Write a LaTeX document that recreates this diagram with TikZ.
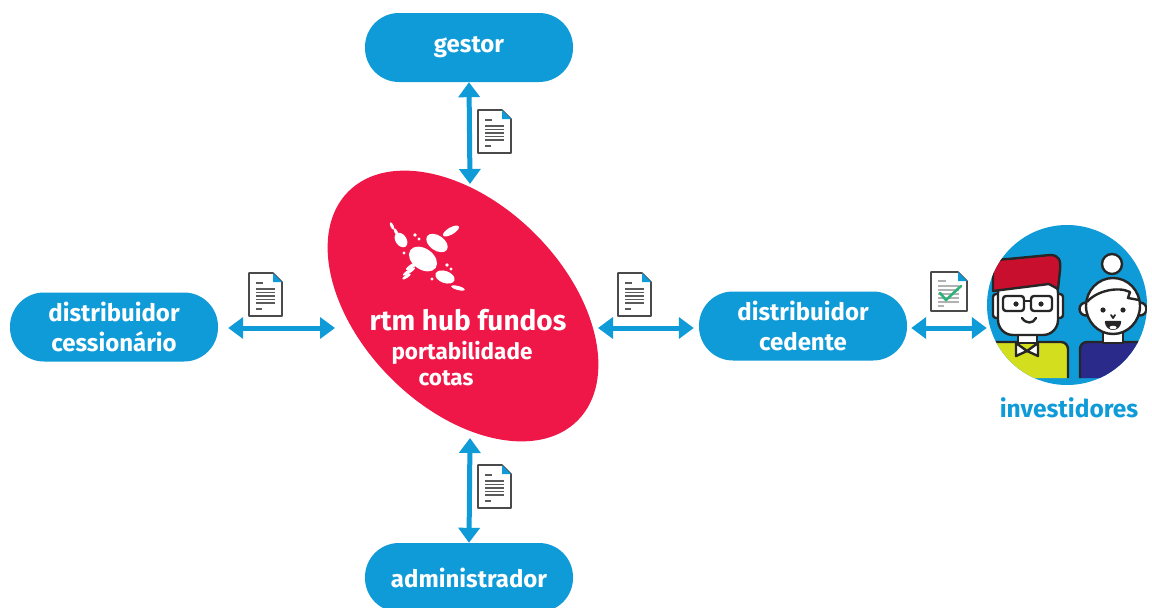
\documentclass[tikz,border=0pt]{standalone}
\usepackage{fontspec}
\setmainfont{Fira Sans}
\usetikzlibrary{arrows.meta,shapes.geometric}

\definecolor{flowblue}{HTML}{0F9BD8}
\definecolor{hubred}{HTML}{EE1747}
\definecolor{docgray}{HTML}{4A4A4A}
\definecolor{linegray}{HTML}{5A5A5A}
\definecolor{inkdark}{HTML}{262626}
\definecolor{hairred}{HTML}{C8102E}
\definecolor{shirtlime}{HTML}{D2DE1E}
\definecolor{shirtnavy}{HTML}{2A2A8A}
\definecolor{checkgreen}{HTML}{2DB27A}

\tikzset{
  pill/.style={draw=none, fill=flowblue, rounded corners=34pt,
    minimum width=208pt, minimum height=69pt, inner sep=0pt,
    text=white, align=center,
    font=\bfseries\fontsize{24}{30}\selectfont},
  biarrow/.style={draw=flowblue, line width=5pt,
    {Triangle[width=21pt,length=15pt]}-{Triangle[width=21pt,length=15pt]}},
  hubtext/.style={text=white, inner sep=0pt},
  outline/.style={draw=inkdark, line width=2.4pt, line join=round},
  docpage/.pic={
    \filldraw[fill=white, draw=docgray, line width=1.6pt, line join=round]
      (0,0) -- (24,0) -- (33,9) -- (33,43) -- (0,43) -- cycle;
    \fill[flowblue] (24,0) -- (33,9) -- (24,9) -- cycle;
    \draw[linegray, line width=1.8pt] (7,10) -- (14,10);
    \foreach \yy in {16,19.5,23,26.5,30} \draw[linegray, line width=1.8pt] (7,\yy) -- (26,\yy);
    \draw[linegray, line width=1.8pt] (7,36) -- (13,36);
  },
  docsigned/.pic={
    \filldraw[fill=white, draw=docgray, line width=1.6pt, line join=round]
      (0,0) -- (27,0) -- (36,9) -- (36,39) -- (0,39) -- cycle;
    \fill[flowblue] (27,0) -- (36,9) -- (27,9) -- cycle;
    \draw[gray!60, line width=1.4pt] (7,9) -- (15,9);
    \foreach \yy in {14,18,22,26,30} \draw[gray!60, line width=1.4pt] (7,\yy) -- (28,\yy);
    \draw[gray!60, line width=1.4pt] (7,34) -- (13,34);
    \draw[checkgreen, line width=2.6pt, line cap=round, line join=round]
      (9,21) -- (15,28) -- (30,14);
  },
}

\begin{document}
\begin{tikzpicture}[x=1pt, y=-1pt]
\useasboundingbox[fill=white] (0,0) rectangle (1152,608);

% central hub
\node[ellipse, fill=hubred, minimum width=324pt, minimum height=204pt,
      inner sep=0pt, rotate=-45] (hub) at (463,306) {};

% hub logo: white ovals radiating along the diagonal
\begin{scope}[white]
  \fill[rotate around={-35:(423,259)}] (423,259) ellipse [x radius=15.5, y radius=10.5];
  \fill[rotate around={-35:(437,243)}] (437,243) ellipse [x radius=12, y radius=7.5];
  \fill[rotate around={-55:(401,240)}] (401,240) ellipse [x radius=8, y radius=5.5];
  \fill[rotate around={-20:(445,277)}] (445,277) ellipse [x radius=10, y radius=6];
  \fill[rotate around={30:(451,231)}] (451,231) ellipse [x radius=9, y radius=3.5];
  \fill[rotate around={-65:(392,226)}] (392,226) ellipse [x radius=4, y radius=1.6];
  \fill[rotate around={-65:(396,232)}] (396,232) ellipse [x radius=4, y radius=1.6];
  \fill[rotate around={32:(412,266)}] (412,266) ellipse [x radius=7, y radius=2];
  \fill[rotate around={32:(409,271.5)}] (409,271.5) ellipse [x radius=7, y radius=1.8];
  \fill[rotate around={32:(406.5,276.5)}] (406.5,276.5) ellipse [x radius=5, y radius=1.6];
  \fill[rotate around={-15:(458,288)}] (458,288) ellipse [x radius=7, y radius=2];
  \fill (415,235) circle (1.8);
  \fill (419,239) circle (1.6);
  \fill (447,265) circle (1.8);
  \fill (451,269) circle (1.6);
  \fill (404,253) circle (1.6);
  \fill (432,279) circle (1.6);
\end{scope}

\node[hubtext, font=\bfseries\fontsize{28}{32}\selectfont] (hubname) at (468,320) {rtm hub fundos};
\node[hubtext, font=\bfseries\fontsize{22.5}{26}\selectfont] (hubsub) at (462,353) {portabilidade};
\node[hubtext, font=\bfseries\fontsize{22.5}{26}\selectfont] (hubcot) at (446,378) {cotas};

% participants
\node[pill] (gestor) at (469,47.5) {gestor};
\node[pill] (admin) at (469,577.5) {administrador};
\node[pill] (cess) at (114,327) {distribuidor\\cessionário};
\node[pill] (ced) at (803,326) {distribuidor\\cedente};

% investors
\node[circle, fill=flowblue, minimum size=160pt, inner sep=0pt] (inv) at (1067,305) {};
\node[text=flowblue, font=\bfseries\fontsize{24.5}{28}\selectfont] (invlabel) at (1069,408) {investidores};

\begin{scope}
  \clip (1067,305) circle (80);
  % man
  \filldraw[outline, fill=shirtlime, rounded corners=7] (984,378) -- (984,342) -- (1068,342) -- (1068,378);
  \filldraw[outline, fill=white] (1018,328) rectangle (1037,343);
  \filldraw[outline, fill=white] (1016,343) -- (1027,351) -- (1038,343) -- (1038,356) -- (1027,351) -- (1016,356) -- cycle;
  \filldraw[outline, fill=white, rounded corners=3] (993,294) rectangle (1001,318);
  \filldraw[outline, fill=white, rounded corners=3] (1055,294) rectangle (1063,318);
  \filldraw[outline, fill=white, rounded corners=15] (998,278) -- (998,335) -- (1058,335) -- (1058,278) -- cycle;
  \filldraw[outline, fill=hairred]
    (993,291) -- (993,270) .. controls (993,262) and (998,259) .. (1008,259)
    -- (1050,255) .. controls (1059,255) and (1061,260) .. (1060,270)
    -- (1058,289) -- (1049,284) -- (993,291) -- cycle;
  \filldraw[outline, fill=white, rounded corners=3] (1003,296) rectangle (1024,311);
  \filldraw[outline, fill=white, rounded corners=3] (1031,296) rectangle (1052,311);
  \draw[outline] (1024,301) -- (1031,301);
  \fill[inkdark] (1016,304) circle (2.6) (1041,304) circle (2.6);
  \draw[outline, line cap=round] (1022,318) .. controls (1026,324) and (1033,324) .. (1036,318);
  % woman
  \filldraw[outline, fill=shirtnavy, rounded corners=7] (1080,378) -- (1080,342) -- (1152,342) -- (1152,378);
  \filldraw[outline, fill=white] (1103,328) rectangle (1123,343);
  \filldraw[outline, fill=white] (1112,264) circle (10);
  \filldraw[outline, fill=white] (1086,309) circle (6.5);
  \filldraw[outline, fill=white] (1140,309) circle (6.5);
  \filldraw[outline, fill=white] (1113,306) ellipse [x radius=27, y radius=28];
  \draw[outline] (1087,302) .. controls (1096,291) and (1118,286) .. (1130,292)
    -- (1128,298) -- (1139,300);
  \fill[inkdark] (1103,310) circle (2.6) (1123,310) circle (2.6);
  \draw[outline, line width=1.8pt, line cap=round] (1111,315) -- (1113,318) -- (1115,315);
  \filldraw[outline, fill=inkdark] (1106,322) -- (1120,322) .. controls (1119,331) and (1107,331) .. (1106,322) -- cycle;
  \fill[white] (1113,327.5) ellipse [x radius=3.5, y radius=1.8];
\end{scope}

% document icons
\pic at (478,110) {docpage};
\pic at (478,465) {docpage};
\pic at (249,273) {docpage};
\pic at (618,273) {docpage};
\pic at (931,272) {docsigned};

% data exchanges
\coordinate (hubN) at (470,184);
\coordinate (hubS) at (470,438);
\coordinate (hubW) at (335,328);
\coordinate (hubE) at (598,328);
\draw[biarrow] (gestor.south) -- (hubN);
\draw[biarrow] (hubS) -- (admin.north);
\draw[biarrow] ([xshift=10pt,yshift=-1pt]cess.east) -- (hubW);
\draw[biarrow] (hubE) -- ([xshift=-5pt,yshift=-2pt]ced.west);
\draw[biarrow] ([xshift=4pt,yshift=-2pt]ced.east) -- (inv.west |- hubE);
\end{tikzpicture}
\end{document}
